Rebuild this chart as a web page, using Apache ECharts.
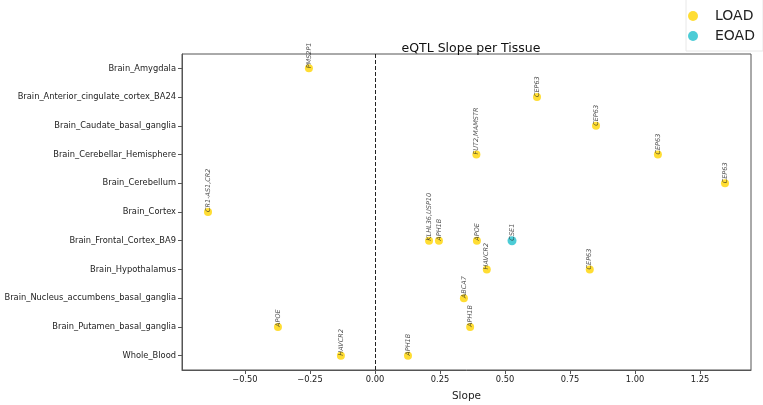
<!DOCTYPE html>
<html lang="en">
<head>
    <meta charset="UTF-8">
    <title>eQTL Slope per Tissue</title>
    <style>
        html, body { margin: 0; padding: 0; background: #fff; }
    </style>
</head>
<body>

<div id="main" style="width: 763px; height: 405px;"></div>

<script src="https://cdn.jsdelivr.net/npm/echarts@6/dist/echarts.min.js"></script>
<script>
    // tissues, top to bottom
    var tissues = [
        'Brain_Amygdala',
        'Brain_Anterior_cingulate_cortex_BA24',
        'Brain_Caudate_basal_ganglia',
        'Brain_Cerebellar_Hemisphere',
        'Brain_Cerebellum',
        'Brain_Cortex',
        'Brain_Frontal_Cortex_BA9',
        'Brain_Hypothalamus',
        'Brain_Nucleus_accumbens_basal_ganglia',
        'Brain_Putamen_basal_ganglia',
        'Whole_Blood'
    ];

    // LOAD points
    var loadTissue = [
        'Brain_Amygdala', 'Brain_Anterior_cingulate_cortex_BA24', 'Brain_Caudate_basal_ganglia',
        'Brain_Cerebellar_Hemisphere', 'Brain_Cerebellar_Hemisphere', 'Brain_Cerebellum',
        'Brain_Cortex', 'Brain_Frontal_Cortex_BA9', 'Brain_Frontal_Cortex_BA9',
        'Brain_Frontal_Cortex_BA9', 'Brain_Hypothalamus', 'Brain_Hypothalamus',
        'Brain_Nucleus_accumbens_basal_ganglia', 'Brain_Putamen_basal_ganglia',
        'Brain_Putamen_basal_ganglia', 'Whole_Blood', 'Whole_Blood'
    ];
    var loadSlope = [
        -0.254, 0.623, 0.85,
        0.39, 1.088, 1.346,
        -0.642, 0.208, 0.246,
        0.392, 0.43, 0.826,
        0.342, -0.373,
        0.366, -0.131, 0.127
    ];
    var loadGene = [
        'PMS2P1', 'CEP63', 'CEP63',
        'FUT2,MAMSTR', 'CEP63', 'CEP63',
        'CR1-AS1,CR2', 'KLHL36,USP10', 'APH1B',
        'APOE', 'HAVCR2', 'CEP63',
        'ABCA7', 'APOE',
        'APH1B', 'HAVCR2', 'APH1B'
    ];

    // EOAD points
    var eoadTissue = ['Brain_Frontal_Cortex_BA9'];
    var eoadSlope = [0.527];
    var eoadGene = ['CSE1'];

    var xTicks = [-0.5, -0.25, 0, 0.25, 0.5, 0.75, 1.0, 1.25];

    function points(slopes, tissueList, genes) {
        var out = [];
        for (var i = 0; i < slopes.length; i++) {
            out.push({ value: [slopes[i], tissueList[i]], gene: genes[i] });
        }
        return out;
    }

    var geneLabel = {
        show: true,
        position: 'inside',
        rotate: 90,
        align: 'left',
        verticalAlign: 'middle',
        fontSize: 6.5,
        fontStyle: 'italic',
        fontFamily: 'DejaVu Sans',
        color: '#222',
        formatter: function (p) { return p.data.gene; }
    };

    var myChart = echarts.init(document.getElementById('main'));

    var option = {
        animation: false,
        textStyle: { fontFamily: 'DejaVu Sans' },
        title: {
            text: 'eQTL Slope per Tissue',
            left: 466,
            top: 37,
            textAlign: 'center',
            textStyle: { fontSize: 12.5, fontWeight: 'normal', color: '#111', fontFamily: 'DejaVu Sans' }
        },
        legend: {
            orient: 'vertical',
            left: 686,
            top: -7,
            padding: [16, 8, 8, 2],
            itemGap: 6,
            itemWidth: 10,
            itemHeight: 10,
            icon: 'circle',
            borderColor: '#e8e8e8',
            borderWidth: 1,
            textStyle: { fontSize: 14, color: '#222', fontFamily: 'DejaVu Sans', padding: [0, 0, 0, 12] },
            data: ['LOAD', 'EOAD']
        },
        grid: {
            left: 182,
            right: 12,
            top: 54,
            bottom: 35,
            containLabel: false,
            outerBoundsMode: 'none',
            show: true,
            borderColor: '#555',
            borderWidth: 1
        },
        xAxis: {
            type: 'value',
            min: -0.742,
            max: 1.446,
            name: 'Slope',
            nameLocation: 'middle',
            nameGap: 21,
            nameTextStyle: { fontSize: 10.5, color: '#222' },
            splitLine: { show: false },
            axisLine: { show: true, onZero: false, lineStyle: { color: '#555' } },
            axisTick: {
                show: true,
                customValues: xTicks,
                length: 4,
                lineStyle: { color: '#555' }
            },
            axisLabel: {
                customValues: xTicks,
                fontSize: 8.3,
                color: '#222',
                margin: 6,
                formatter: function (v) {
                    var s = Math.abs(v).toFixed(2);
                    return v < 0 ? '\u2212' + s : s;
                }
            }
        },
        yAxis: {
            type: 'category',
            data: tissues,
            inverse: true,
            boundaryGap: true,
            splitLine: { show: false },
            axisLine: { show: true, onZero: false, lineStyle: { color: '#555' } },
            axisTick: { show: true, alignWithLabel: true, length: 4, lineStyle: { color: '#555' } },
            axisLabel: { fontSize: 8.3, color: '#222', margin: 6 }
        },
        series: [
            {
                name: 'LOAD',
                type: 'scatter',
                symbolSize: 8,
                itemStyle: { color: '#FFD500' },
                label: geneLabel,
                data: points(loadSlope, loadTissue, loadGene),
                markLine: {
                    silent: true,
                    symbol: 'none',
                    label: { show: false },
                    lineStyle: { color: '#222', type: [4, 2], width: 1 },
                    data: [{ xAxis: 0 }]
                }
            },
            {
                name: 'EOAD',
                type: 'scatter',
                symbolSize: 9,
                itemStyle: { color: '#1FBFCC' },
                label: geneLabel,
                data: points(eoadSlope, eoadTissue, eoadGene)
            }
        ]
    };
    myChart.setOption(option);
</script>
</body>
</html>
